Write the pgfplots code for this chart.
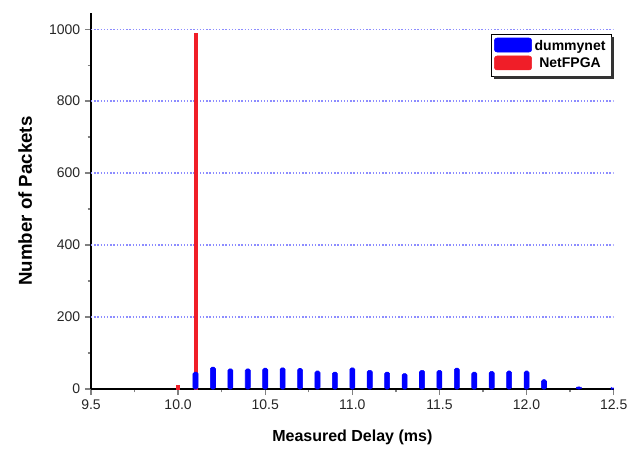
\documentclass[border=0pt]{standalone}
\usepackage{fontspec}
\setmainfont{Liberation Sans}
\usepackage{pgfplots}
\pgfplotsset{compat=1.18}

\definecolor{gridblue}{RGB}{140,140,255}
\definecolor{barblue}{RGB}{0,0,255}
\definecolor{barred}{RGB}{240,30,40}

\begin{document}
\begin{tikzpicture}
\begin{axis}[
    name=ax,
    scale only axis,
    width=392pt,
    height=282pt,
    xmin=9.5, xmax=12.5,
    ymin=0, ymax=1045,
    xtick={9.5,10,...,12.5},
    ytick={0,200,...,1000},
    minor x tick num=1,
    minor y tick num=1,
    axis x line*=bottom,
    axis y line*=left,
    axis line style={-, line width=1.1pt},
    tick align=outside,
    major tick length=4.5pt,
    minor tick length=2.5pt,
    major tick style={line width=1pt},
    minor tick style={line width=1pt},
    xticklabel style={/pgf/number format/.cd, fixed, fixed zerofill, precision=1},
    yticklabel style={/pgf/number format/.cd, set thousands separator={}},
    /pgf/number format/assume math mode=true,
    tick label style={font=\fontsize{10.5}{12}\selectfont, text=black!85},
    xlabel={\textbf{Measured Delay (ms)}},
    ylabel={\textbf{Number of Packets}},
    xlabel style={font=\fontsize{12}{14}\selectfont, yshift=-8pt},
    ylabel style={font=\fontsize{14}{16}\selectfont, yshift=6pt},
    ybar, bar shift=0pt,
    legend style={at={(0.995,0.945)}, anchor=north east, name=leg,
        draw=black, fill=white,
        font=\fontsize{10.5}{12}\selectfont\bfseries,
        inner xsep=2pt, inner ysep=2.5pt, row sep=0.5pt},
    legend image code/.code={\fill[#1, rounded corners=2pt] (0pt,-0.45em) rectangle (28pt,0.6em);},
]
\addlegendimage{fill=barblue, draw=barblue}
\addlegendentry{dummynet}
\addlegendimage{fill=barred, draw=barred}
\addlegendentry{NetFPGA}

% dotted horizontal grid
\pgfplotsinvokeforeach{200,400,600,800,1000}{
    \draw[gridblue, line width=1pt, dash pattern=on 1pt off 1.4pt]
        (axis cs:9.5,#1) -- (axis cs:12.5,#1);
}

\addplot[forget plot, fill=barred, draw=barred, bar width=2.2pt] coordinates {
    (10.0, 11) (10.1, 989)
};
\addplot[forget plot, fill=barblue, draw=barblue, bar width=3.8pt, rounded corners=1.2pt] coordinates {
    (10.1, 47) (10.2, 61) (10.3, 56) (10.4, 56) (10.5, 58) (10.6, 59)
    (10.7, 57) (10.8, 50) (10.9, 47) (11.0, 59) (11.1, 52) (11.2, 47)
    (11.3, 43) (11.4, 52) (11.5, 52) (11.6, 58) (11.7, 47) (11.8, 49)
    (11.9, 50) (12.0, 50) (12.1, 26) (12.3, 6) (12.5, 3)
};
\end{axis}
\fill[black!80] ([yshift=-2.2pt]leg.north east) rectangle ([xshift=2.2pt,yshift=-2.2pt]leg.south east);
\fill[black!80] ([xshift=2.2pt,yshift=-2.2pt]leg.south west) rectangle (leg.south east);
\pgfresetboundingbox
\path (-68.25pt,-48.75pt) rectangle (414pt,291.75pt);
\end{tikzpicture}
\end{document}
